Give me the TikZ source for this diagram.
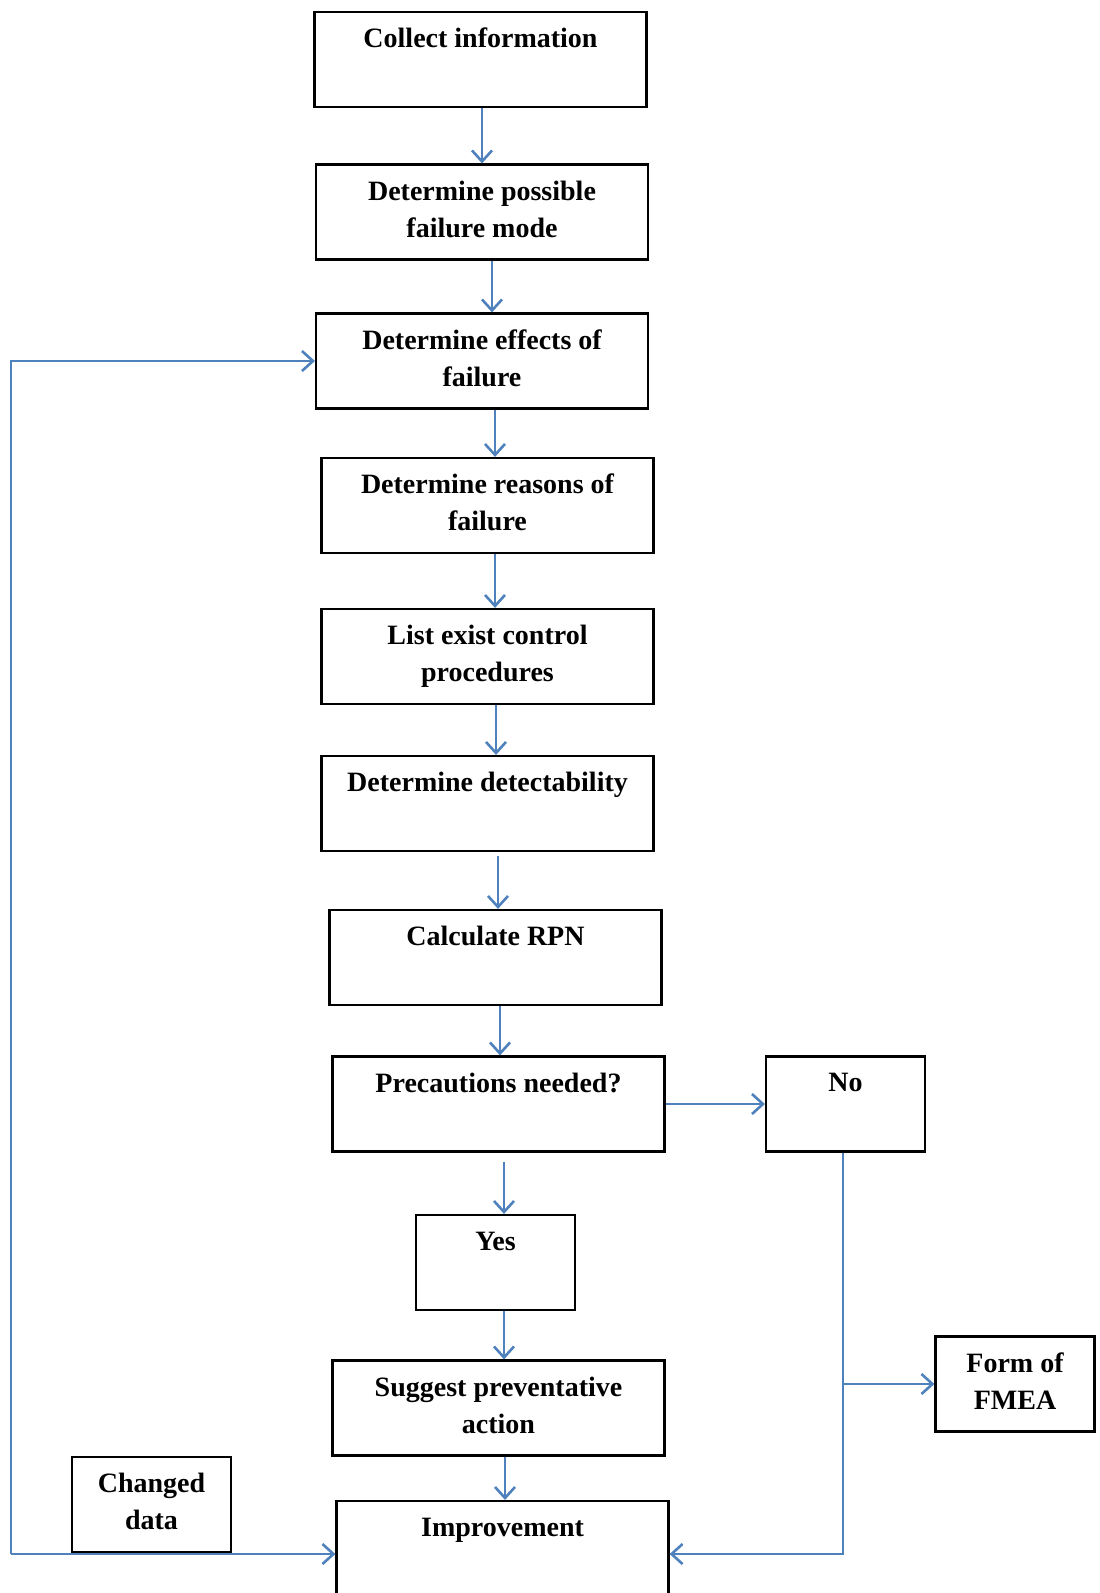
\documentclass[tikz,border=0pt]{standalone}
\usepackage{fontspec}
\setmainfont{Liberation Serif}
\usepackage{xcolor}
\usetikzlibrary{arrows.meta}
\definecolor{flowblue}{RGB}{79,129,189}

\begin{document}
\begin{tikzpicture}[x=0.5pt, y=-0.5pt,
  >={Straight Barb[length=5.5pt, width=10pt]},
  box/.style={draw, line width=1.1pt, align=center, inner sep=4pt,
    font=\fontsize{14}{18.5}\selectfont\bfseries, minimum height=47.5pt,
    text depth=3pt},
  wide/.style={box, minimum width=166pt},
  narrow/.style={box, minimum width=79.5pt},
  flow/.style={->, draw=flowblue, line width=1.3pt}]

  % Page frame
  \clip (0,0) rectangle (1099,1593);

  % Main column
  \node[wide] (collect) at (480.5,59.5) {Collect information\\\mbox{}};
  \node[wide] (possible) at (482,212) {Determine possible\\failure mode};
  \node[wide] (effects) at (482,361) {Determine effects of\\failure};
  \node[wide] (reasons) at (487.5,505.5) {Determine reasons of\\failure};
  \node[wide] (control) at (487.5,656.5) {List exist control\\procedures};
  \node[wide] (detect) at (487.5,803.5) {Determine detectability\\\mbox{}};
  \node[wide] (rpn) at (495.5,957.5) {Calculate RPN\\\mbox{}};
  \node[wide] (needed) at (498.5,1104) {Precautions needed?\\\mbox{}};
  \node[narrow] (yes) at (495.5,1262.5) {Yes\\\mbox{}};
  \node[wide] (suggest) at (498.5,1408) {Suggest preventative\\action};
  \node[wide] (improve) at (502.5,1548.5) {Improvement\\\mbox{}};

  % Side boxes
  \node[narrow] (no) at (845.5,1104) {No\\\mbox{}};
  \node[narrow] (fmea) at (1015,1384) {Form of\\FMEA};
  \node[narrow] (changed) at (151.5,1504.5) {Changed\\data};

  % Downward arrows
  \foreach \a/\b/\d in {collect/possible/0.75pt, possible/effects/5pt,
      effects/reasons/6.5pt, reasons/control/3.75pt, control/detect/4.25pt,
      rpn/needed/2.25pt, yes/suggest/4.25pt, suggest/improve/3.25pt}
    \draw[flow] ([xshift=\d]\a.south) -- ([xshift=\d]\a.south |- \b.north);
  \draw[flow, shorten <=2pt] ([xshift=5.25pt]detect.south)
    -- ([xshift=5.25pt]detect.south |- rpn.north);
  \draw[flow, shorten <=4.5pt] ([xshift=2.75pt]needed.south)
    -- ([xshift=2.75pt]needed.south |- yes.north);

  % No branch
  \draw[flow] (needed.east) -- (no.west);
  \coordinate (loopcorner) at (11,1554);
  \draw[flow] ([xshift=-1.25pt]no.south) |- (loopcorner -| improve.east);
  \draw[flow] ([xshift=-1.25pt]no.south |- fmea.west) -- (fmea.west);

  % Feedback loop
  \draw[flow] (loopcorner) |- (effects.west);
  \draw[flow] (loopcorner) -- (loopcorner -| improve.west);

\end{tikzpicture}
\end{document}
